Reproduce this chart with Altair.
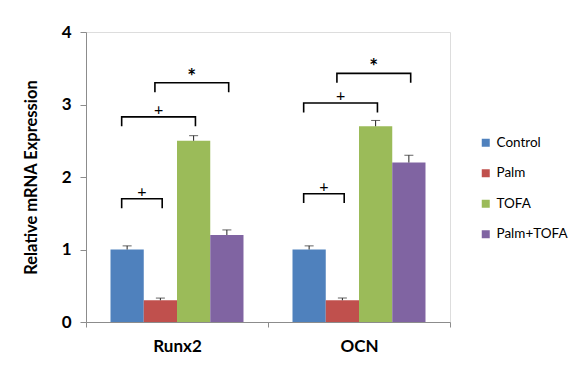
import altair as alt
import pandas as pd

categories = ["Runx2", "OCN"]
series = ["Control", "Palm", "TOFA", "Palm+TOFA"]
colors = ["#4F81BD", "#C0504D", "#9BBB59", "#8064A2"]
runx2_values = [1.0, 0.3, 2.5, 1.2]
runx2_errors = [0.05, 0.03, 0.07, 0.07]
ocn_values = [1.0, 0.3, 2.7, 2.2]
ocn_errors = [0.05, 0.03, 0.08, 0.1]

bracket_category = ["Runx2", "Runx2", "Runx2", "OCN", "OCN", "OCN"]
bracket_from = ["Control", "Control", "Palm", "Control", "Control", "Palm"]
bracket_to = ["Palm", "TOFA", "Palm+TOFA", "Palm", "TOFA", "Palm+TOFA"]
bracket_top = [1.70, 2.83, 3.30, 1.77, 3.02, 3.43]
bracket_labels = ["+", "+", "*", "+", "+", "*"]

FONT = "Lato"
OFFSET_PAD = 0.737

rows = []
for cat, vals, errs in [("Runx2", runx2_values, runx2_errors), ("OCN", ocn_values, ocn_errors)]:
    for s, v, e in zip(series, vals, errs):
        rows.append({"category": cat, "series": s, "value": v, "upper": v + e})
df = pd.DataFrame(rows)

# bracket geometry in "group units" (each category band = 1 unit)
w = 1.0 / (len(series) + 2 * OFFSET_PAD)


def center(cat, s):
    g = categories.index(cat)
    k = series.index(s)
    return g + 0.5 + (k - (len(series) - 1) / 2) * w


brows = []
lrows = []
for i, (cat, a, b, top, lab) in enumerate(zip(bracket_category, bracket_from, bracket_to, bracket_top, bracket_labels)):
    x1 = center(cat, a) - 0.03
    x2 = center(cat, b) + 0.01
    end = top - 0.13
    for j, (xx, yy) in enumerate([(x1, end), (x1, top), (x2, top), (x2, end)]):
        brows.append({"id": i, "ord": j, "bx": xx, "by": yy})
    lrows.append({"bx": (x1 + x2) / 2, "by": top, "label": lab})
bdf = pd.DataFrame(brows)
ldf = pd.DataFrame(lrows)

yscale = alt.Scale(domain=[0, 4])
x_enc = alt.X(
    "category:N", sort=categories,
    scale=alt.Scale(paddingInner=0, paddingOuter=0),
    axis=alt.Axis(title=None, tickBand="extent", labelAngle=0, labelFontSize=17,
                  labelFontWeight="bold", labelColor="#000", labelFont=FONT,
                  domainColor="#8c8c8c", tickColor="#8c8c8c", tickSize=5,
                  labelPadding=11),
)
xo_enc = alt.XOffset("series:N", sort=series,
                     scale=alt.Scale(paddingOuter=OFFSET_PAD, paddingInner=0))

bars = alt.Chart(df).mark_bar().encode(
    x=x_enc,
    xOffset=xo_enc,
    y=alt.Y("value:Q", scale=yscale,
            axis=alt.Axis(values=[0, 1, 2, 3, 4], format="d", grid=False,
                          title="Relative mRNA Expression", titleFontSize=16.5,
                          titleFontWeight="bold", titleFont=FONT, titleColor="#000",
                          titlePadding=22, labelFontSize=17, labelFontWeight="bold",
                          labelFont=FONT, labelColor="#000", domainColor="#8c8c8c",
                          tickColor="#8c8c8c", tickSize=6, labelPadding=9)),
    color=alt.Color("series:N", sort=series,
                    scale=alt.Scale(domain=series, range=colors),
                    legend=alt.Legend(title=None, orient="none", legendX=393, legendY=104,
                                      symbolType="square", symbolSize=64,
                                      symbolStrokeWidth=0, labelFontSize=13.5,
                                      labelFont=FONT, labelColor="#000",
                                      rowPadding=15.5, labelOffset=4)),
)

err = alt.Chart(df).mark_rule(color="#222", strokeWidth=1).encode(
    x=alt.X("category:N", sort=categories), xOffset=alt.XOffset("series:N", sort=series),
    y=alt.Y("value:Q"), y2="upper:Q",
)
caps = alt.Chart(df).mark_tick(color="#222", size=9, thickness=1).encode(
    x=alt.X("category:N", sort=categories), xOffset=alt.XOffset("series:N", sort=series),
    y=alt.Y("upper:Q"),
)

base = alt.layer(bars, err, caps)

bx = alt.X("bx:Q", scale=alt.Scale(domain=[0, 2], nice=False, zero=False), axis=None)
brackets = alt.Chart(bdf).mark_line(color="#000", strokeWidth=1.6).encode(
    x=bx, y=alt.Y("by:Q"), detail="id:N", order="ord:Q",
)
plus = alt.Chart(ldf).transform_filter(alt.datum.label == "+").mark_text(
    fontSize=16, font=FONT, dy=-2, baseline="alphabetic", color="#000"
).encode(x=bx, y=alt.Y("by:Q"), text="label:N")
star = alt.Chart(ldf).transform_filter(alt.datum.label == "*").mark_text(
    fontSize=21, fontWeight="bold", font=FONT, dy=1, baseline="alphabetic", color="#000"
).encode(x=bx, y=alt.Y("by:Q"), text="label:N")

ann = alt.layer(brackets, plus, star)

chart = alt.layer(base, ann).resolve_scale(x="independent").properties(
    width=364, height=290,
    autosize=alt.AutoSizeParams(type="none"),
    padding={"left": 78, "top": 24, "right": 125, "bottom": 38},
).configure_view(stroke=None).configure(background="white")

chart.save("out.html", embed_options={"renderer": "svg", "actions": False})
